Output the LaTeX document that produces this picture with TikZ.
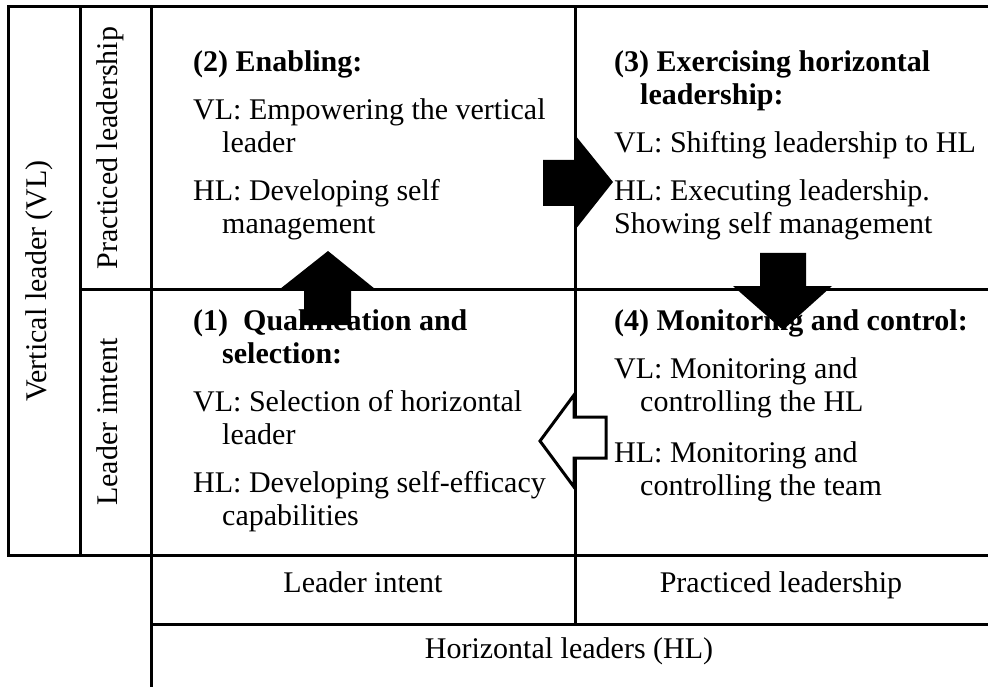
\documentclass[tikz,border=0pt]{standalone}
\usepackage{fontspec}
\setmainfont{Liberation Serif}
\begin{document}
\begin{tikzpicture}[x=1pt,y=-1pt,
  rule/.style={line width=3pt,line cap=rect},
  txt/.style={anchor=mid west,inner sep=0pt,font=\fontsize{30}{34}\selectfont},
  hd/.style={txt,font=\fontsize{30}{34}\selectfont\bfseries},
  ctr/.style={anchor=mid,inner sep=0pt,font=\fontsize{30}{34}\selectfont},
  solidarrow/.style={fill=black,draw=none},
  hollowarrow/.style={fill=white,draw=black,line width=3pt,line join=miter}]
\useasboundingbox (0,0) rectangle (988,687);

% table rules
\draw[rule] (8,7) -- (988,7);
\draw[rule] (8,7) -- (8,555);
\draw[rule] (8,555) -- (988,555);
\draw[rule] (80,7) -- (80,555);
\draw[rule] (151,7) -- (151,687);
\draw[rule] (80,289) -- (988,289);
\draw[rule] (575,7) -- (575,624);
\draw[rule] (151,624) -- (988,624);

% side labels
\node[ctr,rotate=90] (vl) at (44,281) {Vertical leader (VL)};
\node[ctr,rotate=90] (pl) at (115,148) {Practiced leadership};
\node[ctr,rotate=90] (li) at (115,422) {Leader imtent};

% bottom labels
\node[ctr] (hli) at (363,590) {Leader intent};
\node[ctr] (hpl) at (781,590) {Practiced leadership};
\node[ctr] (hhl) at (569,656) {Horizontal leaders (HL)};

% phase arrows
\fill[solidarrow] (543,160) -- (575,160) -- (575,135) -- (613,182) -- (575,230) -- (575,206) -- (543,206) -- cycle;
\fill[solidarrow] (304,325) -- (304,289) -- (280,289) -- (328,251) -- (375,289) -- (351,289) -- (351,325) -- cycle;
\fill[solidarrow] (760,253) -- (806,253) -- (806,286) -- (832,286) -- (783,330) -- (733,286) -- (760,286) -- cycle;
\draw[hollowarrow] (574,395) -- (574,417) -- (606,417) -- (606,458) -- (574,458) -- (574,487) -- (540,441) -- cycle;

% (2) Enabling
\node[hd]  (e0) at (193,69)  {(2) Enabling:};
\node[txt] (e1) at (193,117) {VL: Empowering the vertical};
\node[txt] (e2) at (222,150) {leader};
\node[txt] (e3) at (193,198) {HL: Developing self};
\node[txt] (e4) at (222,231) {management};

% (3) Exercising horizontal leadership
\node[hd]  (x0) at (614,69)  {(3) Exercising horizontal};
\node[hd]  (x1) at (640,102) {leadership:};
\node[txt] (x2) at (614,150) {VL: Shifting leadership to HL};
\node[txt] (x3) at (614,198) {HL: Executing leadership.};
\node[txt] (x4) at (614,231) {Showing self management};

% (1) Qualification and selection
\node[hd]  (q0) at (193,328) {(1)\hspace{0.5em}Qualification and};
\node[hd]  (q1) at (222,361) {selection:};
\node[txt] (q2) at (193,409) {VL: Selection of horizontal};
\node[txt] (q3) at (222,442) {leader};
\node[txt] (q4) at (193,490) {HL: Developing self-efficacy};
\node[txt] (q5) at (222,523) {capabilities};

% (4) Monitoring and control
\node[hd]  (m0) at (614,328) {(4) Monitoring and control:};
\node[txt] (m1) at (614,376) {VL: Monitoring and};
\node[txt] (m2) at (640,409) {controlling the HL};
\node[txt] (m3) at (614,460) {HL: Monitoring and};
\node[txt] (m4) at (640,493) {controlling the team};
\end{tikzpicture}
\end{document}
